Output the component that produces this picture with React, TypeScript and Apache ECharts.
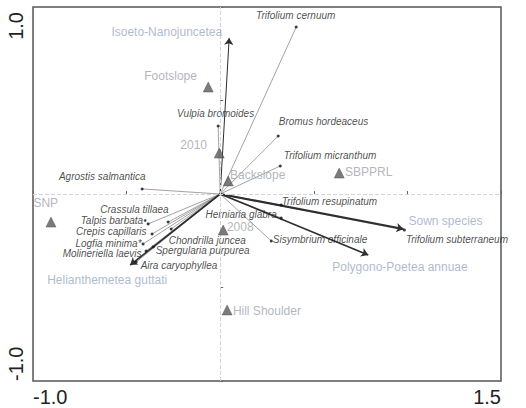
import React, { useEffect, useRef } from "react";
import * as echarts from "echarts";

// ---- data ----
const speciesNames = [
  "Trifolium cernuum", "Vulpia bromoides", "Bromus hordeaceus", "Trifolium micranthum",
  "Agrostis salmantica", "Trifolium resupinatum", "Trifolium subterraneum", "Sisymbrium officinale",
  "Herniaria glabra", "Chondrilla juncea", "Spergularia purpurea", "Aira caryophyllea",
  "Crassula tillaea", "Talpis barbata", "Crepis capillaris", "Logfia minima", "Molineriella laevis",
];
const speciesX = [0.406, -0.011, 0.31, 0.321, -0.417, 0.326, 0.984, 0.273, 0.326, -0.262, -0.358, -0.449, -0.278, -0.385, -0.364, -0.412, -0.396];
const speciesY = [0.893, 0.364, 0.31, 0.15, 0.027, -0.059, -0.193, -0.251, -0.128, -0.187, -0.283, -0.364, -0.15, -0.16, -0.214, -0.267, -0.305];
const speciesSuffix = ["", "", "", "", "", "", "", "", "", "", "", "", "", "\u2022", "", "*", ""];

const siteNames = ["Footslope", "2010", "Backslope", "SBPPRL", "SNP", "2008", "Hill Shoulder"];
const siteX = [-0.064, -0.005, 0.043, 0.636, -0.904, 0.016, 0.037];
const siteY = [0.572, 0.219, 0.07, 0.112, -0.15, -0.193, -0.62];

const syntaxaNames = ["Isoeto-Nanojuncetea", "Sown species", "Polygono-Poetea annuae", "Helianthemetea guttati"];
const syntaxaX = [0.048, 0.979, 0.791, -0.481];
const syntaxaY = [0.834, -0.187, -0.326, -0.38];

const xTickLabels = ["-1.0", "1.5"];
const xTickValues = [-1.0, 1.5];
const yTickLabels = ["1.0", "-1.0"];
const yTickValues = [1.0, -1.0];

// ---- label layout (style only) ----
type Lay = { dx: number; dy: number; align: "left" | "right" | "center" };
const speciesLayout: Record<string, Lay> = {
  "Trifolium cernuum": { dx: 1, dy: -10, align: "center" },
  "Vulpia bromoides": { dx: -1, dy: -11, align: "center" },
  "Bromus hordeaceus": { dx: 2, dy: -13, align: "left" },
  "Trifolium micranthum": { dx: 5, dy: -9, align: "left" },
  "Agrostis salmantica": { dx: 5, dy: -11, align: "right" },
  "Trifolium resupinatum": { dx: 2, dy: -2, align: "left" },
  "Trifolium subterraneum": { dx: 3, dy: 11, align: "left" },
  "Sisymbrium officinale": { dx: 3, dy: 0, align: "left" },
  "Herniaria glabra": { dx: -3, dy: -2, align: "right" },
  "Chondrilla juncea": { dx: -1, dy: 13, align: "left" },
  "Spergularia purpurea": { dx: 4, dy: 5, align: "left" },
  "Aira caryophyllea": { dx: 6, dy: 5, align: "left" },
  "Crassula tillaea": { dx: 2, dy: -11, align: "right" },
  "Talpis barbata": { dx: 0, dy: -2, align: "right" },
  "Crepis capillaris": { dx: -4, dy: -1, align: "right" },
  "Logfia minima": { dx: 0, dy: 1, align: "right" },
  "Molineriella laevis": { dx: -3, dy: 4, align: "right" },
};
const siteLayout: Record<string, Lay> = {
  "Footslope": { dx: -6, dy: -6, align: "right" },
  "2010": { dx: -7, dy: -3, align: "right" },
  "Backslope": { dx: 7, dy: -1, align: "left" },
  "SBPPRL": { dx: 11, dy: 4, align: "left" },
  "SNP": { dx: 0, dy: -14, align: "center" },
  "2008": { dx: 9, dy: 2, align: "left" },
  "Hill Shoulder": { dx: 11, dy: 6, align: "left" },
};
const syntaxaLayout: Record<string, Lay> = {
  "Isoeto-Nanojuncetea": { dx: -7, dy: -6, align: "right" },
  "Sown species": { dx: 5, dy: -8, align: "left" },
  "Polygono-Poetea annuae": { dx: -36, dy: 12, align: "left" },
  "Helianthemetea guttati": { dx: -83, dy: 15, align: "left" },
};
const syntaxaWidth = [1.0, 2.2, 1.6, 1.6];

const FONT = "'Liberation Sans', Arial, sans-serif";

function labelFor(l: Lay) {
  return {
    show: true,
    position: [l.dx, l.dy],
    align: l.align,
    verticalAlign: "middle",
  };
}

export default function App() {
  const ref = useRef<HTMLDivElement>(null);
  useEffect(() => {
    if (!ref.current) return;
    const chart = echarts.init(ref.current, undefined, { renderer: "svg" });

    const speciesLines = speciesNames.map((n, i) => ({
      coords: [[0, 0], [speciesX[i], speciesY[i]]],
    }));
    const speciesData = speciesNames.map((n, i) => ({
      name: n + speciesSuffix[i],
      value: [speciesX[i], speciesY[i]],
      label: labelFor(speciesLayout[n]),
    }));
    const siteData = siteNames.map((n, i) => ({
      name: n,
      value: [siteX[i], siteY[i]],
      label: labelFor(siteLayout[n]),
    }));
    const syntaxaLabelData = syntaxaNames.map((n, i) => ({
      name: n,
      value: [syntaxaX[i], syntaxaY[i]],
      label: labelFor(syntaxaLayout[n]),
    }));

    chart.setOption({
      animation: false,
      backgroundColor: "#ffffff",
      grid: {
        left: 33, top: 7, right: 25, bottom: 27,
        show: true, borderColor: "#555", borderWidth: 1.5, backgroundColor: "transparent",
      },
      xAxis: {
        type: "value", min: -1, max: 1.5, interval: 0.5,
        axisLine: { show: false },
        axisTick: { show: true, length: 3, inside: true, lineStyle: { color: "#666" } },
        axisLabel: { show: false },
        splitLine: { show: false },
      },
      yAxis: {
        type: "value", min: -1, max: 1, interval: 0.5,
        axisLine: { show: false },
        axisTick: { show: true, length: 3, inside: true, lineStyle: { color: "#666" } },
        axisLabel: { show: false },
        splitLine: { show: false },
      },
      series: [
        {
          type: "scatter",
          data: [],
          markLine: {
            silent: true,
            symbol: "none",
            label: { show: false },
            lineStyle: { type: "dashed", color: "#d4d4d4", width: 1 },
            data: [{ xAxis: 0 }, { yAxis: 0 }],
          },
        },
        {
          type: "lines",
          coordinateSystem: "cartesian2d",
          silent: true,
          lineStyle: { color: "#8c8c8c", width: 0.8, opacity: 1 },
          data: speciesLines,
          z: 2,
        },
        {
          type: "lines",
          coordinateSystem: "cartesian2d",
          silent: true,
          symbol: ["none", "arrow"],
          symbolSize: 7,
          data: syntaxaNames.map((n, i) => ({
            coords: [[0, 0], [syntaxaX[i], syntaxaY[i]]],
            lineStyle: { color: "#2e2e2e", width: syntaxaWidth[i], opacity: 1 },
          })),
          z: 3,
        },
        {
          type: "scatter",
          symbol: "circle",
          symbolSize: 3,
          itemStyle: { color: "#111" },
          label: {
            show: true, formatter: "{b}", fontFamily: FONT, fontSize: 10, lineHeight: 10,
            fontStyle: "italic", color: "#1a1a1a",
          },
          data: speciesData,
          z: 4,
        },
        {
          type: "scatter",
          symbol: "triangle",
          symbolSize: 10,
          itemStyle: { color: "#5a5a5a", borderColor: "#444", borderWidth: 0.5 },
          label: {
            show: true, formatter: "{b}", fontFamily: FONT, fontSize: 12, color: "#9ba3ad",
          },
          data: siteData,
          z: 5,
        },
        {
          type: "scatter",
          symbolSize: 0,
          itemStyle: { color: "transparent" },
          label: {
            show: true, formatter: "{b}", fontFamily: FONT, fontSize: 12, color: "#98a9bf",
          },
          data: syntaxaLabelData,
          z: 5,
        },
      ],
    });

    const graphics: any[] = [];
    xTickValues.forEach((v, i) => {
      const p = chart.convertToPixel({ gridIndex: 0 }, [v, -1]) as number[];
      graphics.push({
        type: "text", x: p[0], y: p[1] + 16,
        style: {
          text: xTickLabels[i], fill: "#222", fontFamily: FONT, fontSize: 20,
          align: i === 0 ? "left" : "right", verticalAlign: "middle",
        },
      });
    });
    yTickValues.forEach((v, i) => {
      const p = chart.convertToPixel({ gridIndex: 0 }, [-1, v]) as number[];
      graphics.push({
        type: "text", x: p[0] - 17, y: i === 0 ? p[1] + 5 : p[1],
        rotation: Math.PI / 2,
        style: {
          text: yTickLabels[i], fill: "#222", fontFamily: FONT, fontSize: 20,
          align: i === 0 ? "right" : "left", verticalAlign: "middle",
        },
      });
    });
    chart.setOption({ graphic: graphics });

    return () => chart.dispose();
  }, []);
  return (
    <div
      ref={ref}
      style={{ position: "absolute", left: 0, top: 0, width: 526, height: 408 }}
    />
  );
}
